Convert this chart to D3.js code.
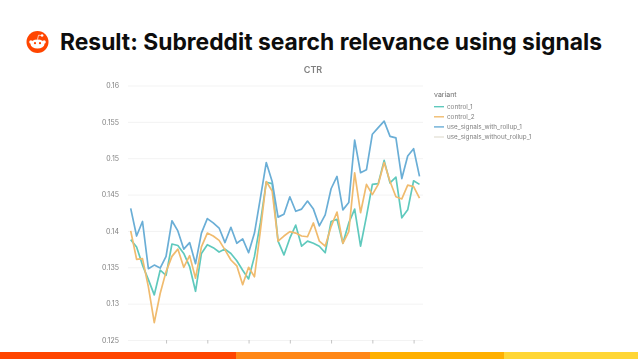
<!DOCTYPE html>
<html>
<head>
<meta charset="utf-8">
<script src="https://cdn.jsdelivr.net/npm/d3@7"></script>
<style>
  html, body { margin: 0; padding: 0; background: #fff; }
  svg { display: block; }
  text { font-family: Inter, "Open Sans", sans-serif; }
</style>
</head>
<body>
<svg id="slide" width="638" height="359"></svg>
<script>
const title = 'Result: Subreddit search relevance using signals';
const chartTitle = 'CTR';
const legendTitle = 'variant';
const variants = ['control_1', 'control_2', 'use_signals_with_rollup_1', 'use_signals_without_rollup_1'];
const variantColors = ['#5fc9bd', '#f0bb6e', '#6aaed6', '#e6e3d8'];
const yTicks = [0.125, 0.13, 0.135, 0.14, 0.145, 0.15, 0.155, 0.16];
const xTicks = [6, 13, 20, 27, 34, 41, 48];
const footerShares = [236, 134, 134, 134];
const footerColors = ['#ff4500', '#ff8717', '#ffb000', '#ffd635'];

const control1 = [.1388, .1378, .1353, .1333, .1312, .1346, .1339, .1382, .1380, .1369,
  .1351, .1317, .1369, .1381, .1377, .1371, .1375, .1369, .1359, .1346,
  .1334, .1365, .1411, .1467, .1465, .1386, .1367, .1390, .1408, .1379,
  .1386, .1383, .1379, .1370, .1413, .1416, .1383, .1411, .1430, .1379,
  .1420, .1464, .1465, .1497, .1466, .1474, .1418, .1429, .1469, .1464];
const control2 = [.1400, .1361, .1362, .1323, .1274, .1314, .1344, .1365, .1375, .1350,
  .1366, .1335, .1378, .1397, .1393, .1387, .1374, .1360, .1352, .1326,
  .1350, .1337, .1400, .1468, .1455, .1386, .1393, .1399, .1397, .1393,
  .1392, .1411, .1386, .1379, .1406, .1426, .1383, .1399, .1480, .1425,
  .1464, .1450, .1464, .1494, .1468, .1447, .1444, .1463, .1461, .1445];
const withRollup = [.1431, .1393, .1413, .1348, .1353, .1349, .1365, .1414, .1400, .1375,
  .1384, .1355, .1397, .1417, .1411, .1404, .1384, .1405, .1383, .1389,
  .1370, .1397, .1445, .1494, .1468, .1419, .1423, .1447, .1427, .1430,
  .1441, .1430, .1407, .1422, .1458, .1475, .1429, .1439, .1525, .1480,
  .1484, .1533, .1542, .1551, .1530, .1528, .1472, .1503, .1513, .1475];

const svg = d3.select('#slide');

// the source is a soft screenshot of a dashboard, so blur the chart a little
svg.append('defs').append('filter').attr('id', 'soft')
  .attr('x', '-5%').attr('y', '-5%').attr('width', '110%').attr('height', '110%')
  .append('feGaussianBlur').attr('stdDeviation', 0.6);

// logo
const logo = svg.append('g').attr('transform', 'translate(37.5,42)');
logo.append('circle').attr('r', 11).attr('fill', '#ff4500');
logo.append('ellipse').attr('cy', 2).attr('rx', 7).attr('ry', 4.6).attr('fill', '#fff');
logo.append('circle').attr('cx', -6.6).attr('cy', 0).attr('r', 1.7).attr('fill', '#fff');
logo.append('circle').attr('cx', 6.6).attr('cy', 0).attr('r', 1.7).attr('fill', '#fff');
logo.append('circle').attr('cx', 4.6).attr('cy', -6.5).attr('r', 1.3).attr('fill', '#fff');
logo.append('path').attr('d', 'M0,-2.5 L1,-6.8 L4.6,-6.5').attr('fill', 'none').attr('stroke', '#fff').attr('stroke-width', 0.7);
logo.append('circle').attr('cx', -2.5).attr('cy', 1.2).attr('r', 1.1).attr('fill', '#ff4500');
logo.append('circle').attr('cx', 2.5).attr('cy', 1.2).attr('r', 1.1).attr('fill', '#ff4500');

svg.append('text')
  .attr('x', 60).attr('y', 50)
  .attr('font-size', 23).attr('font-weight', 700).attr('fill', '#0d0d0d')
  .attr('textLength', 542).attr('lengthAdjust', 'spacingAndGlyphs')
  .text(title);

const chart = svg.append('g').attr('filter', 'url(#soft)');

const x = d3.scaleLinear().domain([0, 49]).range([130.7, 419.5]);
const y = d3.scaleLinear().domain([0.125, 0.16]).range([340, 85.5]);

chart.append('text')
  .attr('x', 313).attr('y', 73).attr('text-anchor', 'middle')
  .attr('font-size', 9).attr('font-weight', 600).attr('fill', '#808080')
  .text(chartTitle);

const yAxis = chart.append('g')
  .attr('transform', 'translate(128,0)')
  .call(d3.axisLeft(y).tickValues(yTicks).tickFormat(d => String(+d.toFixed(3))).tickSize(-295).tickPadding(9));
yAxis.select('.domain').remove();
yAxis.selectAll('.tick line').attr('stroke', '#f3f3f3');
yAxis.selectAll('.tick text').attr('font-size', 7).attr('fill', '#808080');

const xAxis = chart.append('g')
  .attr('transform', 'translate(0,340)')
  .call(d3.axisBottom(x).tickValues(xTicks).tickFormat('').tickSize(3.5));
xAxis.select('.domain').remove();
xAxis.selectAll('.tick line').attr('stroke', '#c4c4c4');

const line = d3.line().x((d, i) => x(i)).y(d => y(d));
const seriesList = [
  { values: control1, color: variantColors[0] },
  { values: control2, color: variantColors[1] },
  { values: withRollup, color: variantColors[2] }
];
chart.selectAll('path.series')
  .data(seriesList)
  .join('path')
  .attr('class', 'series')
  .attr('d', d => line(d.values))
  .attr('fill', 'none')
  .attr('stroke', d => d.color)
  .attr('stroke-width', 1.7)
  .attr('stroke-linejoin', 'round');

// legend
chart.append('text')
  .attr('x', 434).attr('y', 96.5)
  .attr('font-size', 7).attr('fill', '#6e6e6e')
  .text(legendTitle);

const legendRow = chart.selectAll('g.legend-row')
  .data(variants)
  .join('g')
  .attr('class', 'legend-row')
  .attr('transform', (d, i) => `translate(434,${106.7 + i * 10.1})`);
legendRow.append('line')
  .attr('x2', 10)
  .attr('stroke', (d, i) => variantColors[i])
  .attr('stroke-width', 1.4);
legendRow.append('text')
  .attr('x', 13).attr('y', 2.3)
  .attr('font-size', 6.35).attr('fill', '#808080')
  .text(d => d);

// footer stripe
let footerX = 0;
svg.selectAll('rect.footer')
  .data(footerShares)
  .join('rect')
  .attr('class', 'footer')
  .attr('x', d => { const left = footerX; footerX += d; return left; })
  .attr('y', 352)
  .attr('width', d => d)
  .attr('height', 7)
  .attr('fill', (d, i) => footerColors[i]);
</script>
</body>
</html>
